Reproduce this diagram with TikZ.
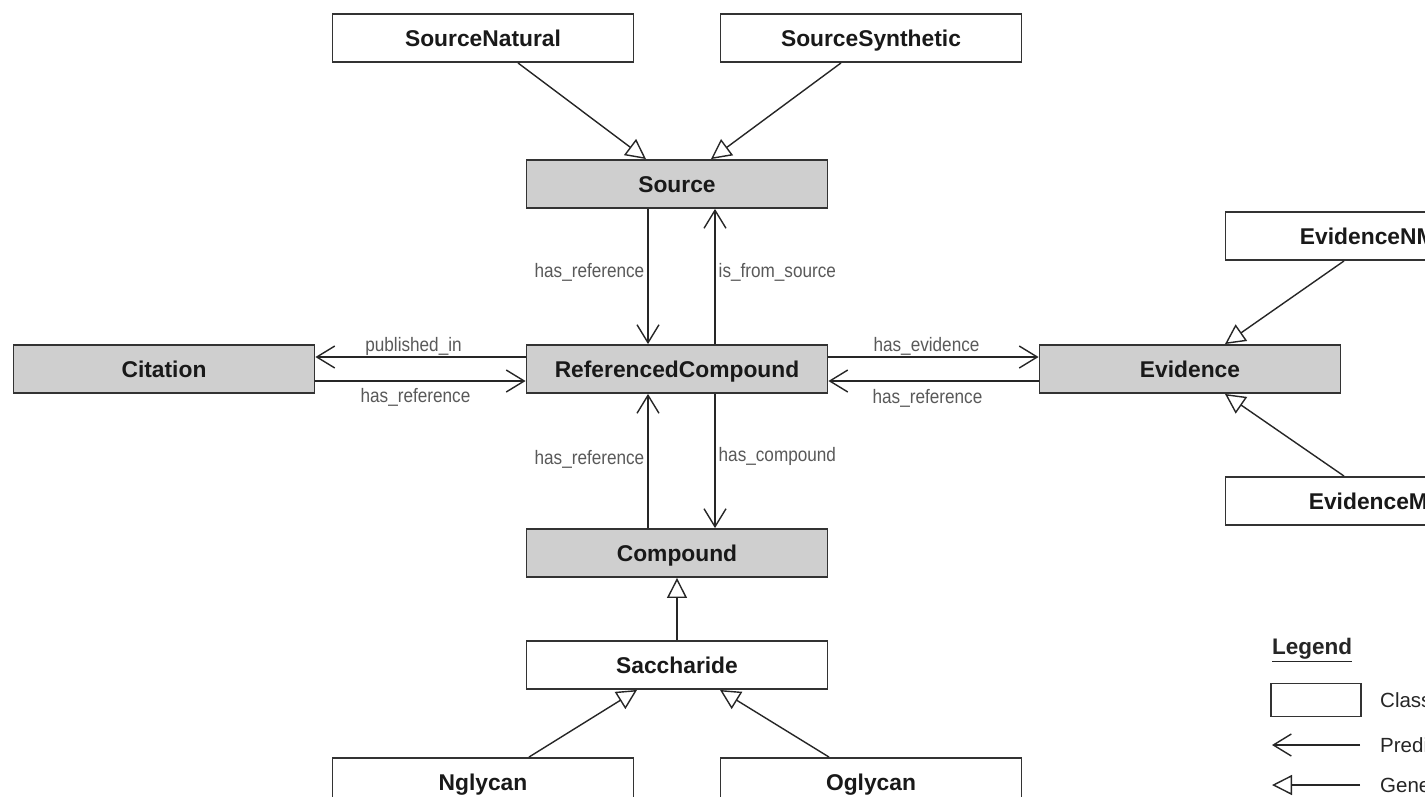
\documentclass[tikz,border=0pt]{standalone}
\usepackage{fontspec}
\setmainfont{Liberation Sans}
\newfontfamily\lblfont[FakeStretch=0.88]{Liberation Sans}
\usetikzlibrary{arrows.meta}
\tikzset{
  cls/.style={draw=black!80, line width=1.9pt, minimum width=301pt, minimum height=48pt,
    inner sep=0pt, text height=16.3pt, text depth=0pt,
    font=\fontsize{22.8}{26}\selectfont\bfseries, text=black!90},
  core/.style={cls, fill=black!19},
  sub/.style={cls, fill=white},
  conn/.style={line width=1.4pt, draw=black!85},
  pred/.style={conn, -{Straight Barb[length=18pt,width=22pt]}},
  gen/.style={conn, -{Triangle[open, length=20pt, width=20pt, fill=white]}},
  elabel/.style={font=\lblfont\fontsize{19.5}{22}\selectfont, text=black!65, inner sep=3pt},
  legtext/.style={font=\fontsize{20.5}{24}\selectfont, text=black!85, anchor=west, inner sep=0pt},
}
\begin{document}
\begin{tikzpicture}[x=1pt,y=-1pt]
\useasboundingbox (0,0) rectangle (1425,796);
\clip (0,0) rectangle (1425,796);
\fill[white] (0,0) rectangle (1425,796);

% class nodes
\node[sub]  (SN)  at (483,38)   {SourceNatural};
\node[sub]  (SS)  at (871,38)   {SourceSynthetic};
\node[core] (Src) at (677,184)  {Source};
\node[core] (Cit) at (164,369)  {Citation};
\node[core] (RC)  at (677,369)  {ReferencedCompound};
\node[core] (Ev)  at (1190,369) {Evidence};
\node[sub]  (ENMR) at (1376,236) {EvidenceNMR};
\node[sub]  (EMS)  at (1376,501) {EvidenceMS};
\node[core] (Cmp) at (677,553)  {Compound};
\node[sub]  (Sac) at (677,665)  {Saccharide};
\node[sub]  (Ngl) at (483,782)  {Nglycan};
\node[sub]  (Ogl) at (871,782)  {Oglycan};

% generalizations
\draw[gen] ([xshift=35pt]SN.south) -- ([xshift=-31pt]Src.north);
\draw[gen] ([xshift=-30pt]SS.south) -- ([xshift=34pt]Src.north);
\draw[gen] ([xshift=-32pt]ENMR.south) -- ([xshift=35pt]Ev.north);
\draw[gen] ([xshift=-32pt]EMS.north) -- ([xshift=35pt]Ev.south);
\draw[gen] (Sac.north) -- (Cmp.south);
\draw[gen] ([xshift=46pt]Ngl.north) -- ([xshift=-40pt]Sac.south);
\draw[gen] ([xshift=-42pt]Ogl.north) -- ([xshift=43pt]Sac.south);

% predicates
\draw[pred] ([xshift=-29pt]Src.south) -- ([xshift=-29pt]RC.north)
  node[elabel, midway, left, yshift=4pt] {has\_reference};
\draw[pred] ([xshift=38pt]RC.north) -- ([xshift=38pt]Src.south)
  node[elabel, midway, right, yshift=4pt] {is\_from\_source};
\draw[pred] ([xshift=-29pt]Cmp.north) -- ([xshift=-29pt]RC.south)
  node[elabel, midway, left, yshift=2pt] {has\_reference};
\draw[pred] ([xshift=38pt]RC.south) -- ([xshift=38pt]Cmp.north)
  node[elabel, midway, right, yshift=5pt] {has\_compound};
\draw[pred] ([yshift=12pt]RC.west) -- ([yshift=12pt]Cit.east)
  node[elabel, midway, above, xshift=-7pt, inner sep=1pt] {published\_in};
\draw[pred] ([yshift=-12pt]Cit.east) -- ([yshift=-12pt]RC.west)
  node[elabel, midway, below, xshift=-5pt, yshift=-6pt, inner sep=1pt] {has\_reference};
\draw[pred] ([yshift=12pt]RC.east) -- ([yshift=12pt]Ev.west)
  node[elabel, midway, above, xshift=-7pt, inner sep=1pt] {has\_evidence};
\draw[pred] ([yshift=-12pt]Ev.west) -- ([yshift=-12pt]RC.east)
  node[elabel, midway, below, xshift=-6pt, yshift=-7pt, inner sep=1pt] {has\_reference};

% legend
\node[font=\fontsize{22.5}{26}\selectfont\bfseries, text=black!85, inner sep=0pt] (leg) at (1312,650) {\underline{Legend}};
\node[draw=black!80, line width=1.6pt, fill=white, minimum width=90pt, minimum height=33pt, inner sep=0pt] (legbox) at (1316,700) {};
\node[legtext] (legcls) at (1380,700) {Class};
\coordinate (p1) at (1360,745);
\coordinate (p2) at (1272,745);
\draw[pred] (p1) -- (p2);
\node[legtext] (legpred) at (1380,745) {Predicate};
\coordinate (g1) at (1360,785);
\coordinate (g2) at (1272,785);
\draw[gen] (g1) -- (g2);
\node[legtext] (leggen) at (1380,785) {Generalization};
\end{tikzpicture}
\end{document}
